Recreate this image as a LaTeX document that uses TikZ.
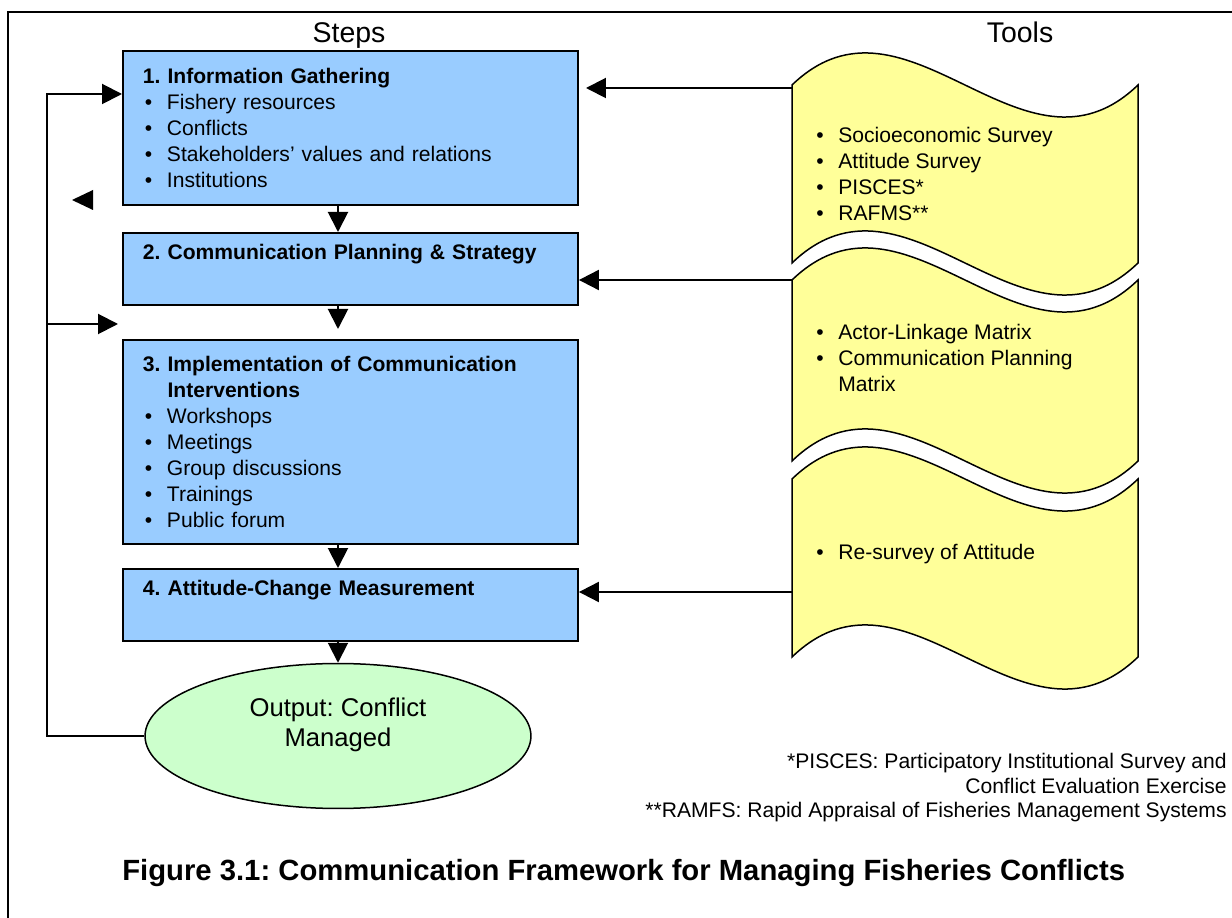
\documentclass[tikz,border=0pt]{standalone}
\usepackage{fontspec}
\setmainfont{Liberation Sans}
\usetikzlibrary{shapes.geometric,arrows.meta}

\definecolor{stepblue}{HTML}{99CCFF}
\definecolor{toolyellow}{HTML}{FFFF99}
\definecolor{outgreen}{HTML}{CCFFCC}

\frenchspacing
\newcommand{\itm}[1]{\makebox[0.48cm][l]{\hspace{0.04cm}\textbullet}#1}
\newcommand{\toolsheet}[2]{%
  \filldraw[tool] (792,#1) .. controls (907.3,#1-111) and (1022.7,#1+111) .. (1138,#1)
    -- (1138,#2) .. controls (1022.7,#2+111) and (907.3,#2-111) .. (792,#2) -- cycle;}

\begin{document}
\begin{tikzpicture}[x=0.02cm,y=-0.02cm,
  stepbox/.style={draw,line width=0.04cm,fill=stepblue,anchor=north west,
    minimum width=9.1cm,text width=8.3cm,inner xsep=0.4cm,inner ysep=0pt,
    align=left,font=\fontsize{12}{14.74}\selectfont},
  tool/.style={draw,line width=0.03cm,fill=toolyellow},
  tooltext/.style={anchor=west,align=left,inner sep=0pt,font=\fontsize{12}{14.74}\selectfont},
  arr/.style={line width=0.04cm,-{Triangle[length=0.4cm,width=0.4cm]}}]
\clip (0,0) rectangle (1232,918);
\fill[white] (0,0) rectangle (1232,918);
\draw[line width=0.05cm] (8,960) -- (8,12) -- (1260,12);

\node[anchor=base,font=\fontsize{16.2}{19}\selectfont] (steps) at (349,43) {Steps};
\node[anchor=base,font=\fontsize{16.2}{19}\selectfont] (tools) at (1020,43) {Tools};

\node[stepbox,minimum height=3.08cm] (b1) at (122,50) {\textbf{1. Information Gathering}\\
  \itm{Fishery resources}\\ \itm{Conflicts}\\ \itm{Stakeholders’ values and relations}\\ \itm{Institutions}};
\node[stepbox,minimum height=1.44cm] (b2) at (122,232) {\textbf{2. Communication Planning \& Strategy}\\ \strut};
\node[stepbox,minimum height=4.08cm] (b3) at (122,339) {\textbf{3. Implementation of Communication}\\
  \phantom{\textbf{3. }}\textbf{Interventions}\\
  \itm{Workshops}\\ \itm{Meetings}\\ \itm{Group discussions}\\ \itm{Trainings}\\ \itm{Public forum}};
\node[stepbox,minimum height=1.44cm] (b4) at (122,568) {\textbf{4. Attitude-Change Measurement}\\ \strut};

\node[ellipse,draw,line width=0.03cm,fill=outgreen,minimum width=7.72cm,minimum height=2.9cm,inner sep=0pt] (out) at (338,736) {};
\node[align=center,font=\fontsize{14.6}{17}\selectfont] (outlbl) at (338,725) {Output: Conflict\\Managed};

\toolsheet{85}{263}
\toolsheet{280}{461}
\toolsheet{479}{657}
\node[tooltext] (t1txt) at (814,174) {\itm{Socioeconomic Survey}\\ \itm{Attitude Survey}\\ \itm{PISCES*}\\ \itm{RAFMS**}};
\node[tooltext] (t2txt) at (814,358) {\itm{Actor-Linkage Matrix}\\ \itm{Communication Planning}\\ \hspace*{0.48cm}Matrix};
\node[tooltext] (t3txt) at (814,554) {\itm{Re-survey of Attitude}};

\coordinate (t1) at (792,88);
\coordinate (t2) at (792,280);
\coordinate (t3) at (792,592);
\coordinate (h1) at (586,88);
\draw[arr] (t1) -- (h1);
\draw[arr] (t2) -- (b2.east |- t2);
\draw[arr] (t3) -- (b4.east |- t3);

\coordinate (g3) at (338,329);
\draw[arr] (b1.south -| out) -- (b2.north -| out);
\draw[arr] (b2.south -| out) -- (g3);
\draw[arr] (b3.south -| out) -- (b4.north -| out);
\draw[arr] (b4.south -| out) -- (out.north);

\coordinate (lp) at (47,736);
\coordinate (f1) at (122,94);
\coordinate (lp2) at (46,324);
\coordinate (f2) at (118,324);
\draw[arr] (out.west) -- (lp) |- (f1);
\draw[arr] (lp2) -- (f2);
\fill (93,190) -- (72,200) -- (93,210) -- cycle;

\node[anchor=base east,align=right,inner sep=0pt,font=\fontsize{12}{14.2}\selectfont] (notes) at (1227,818)
  {*PISCES: Participatory Institutional Survey and\\ Conflict Evaluation Exercise\\
   **RAMFS: Rapid Appraisal of Fisheries Management Systems};
\node[anchor=base west,inner sep=0pt,font=\bfseries\fontsize{16.65}{19}\selectfont] (caption) at (122,881)
  {Figure 3.1: Communication Framework for Managing Fisheries Conflicts};
\end{tikzpicture}
\end{document}
